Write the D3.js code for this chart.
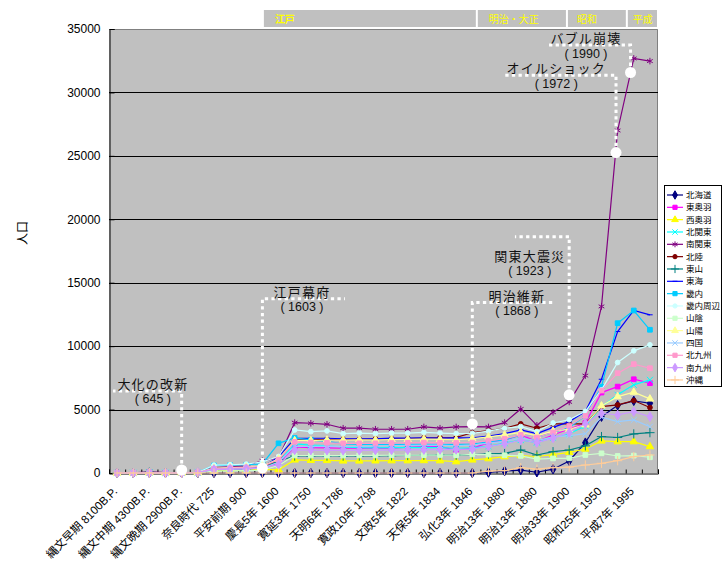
<!DOCTYPE html>
<html><head><meta charset="utf-8">
<script src="https://cdn.jsdelivr.net/npm/d3@7"></script>
<style>body{margin:0;background:#fff}text{font-family:"Liberation Sans","Noto Sans CJK JP",sans-serif}</style>
</head><body>
<svg id="c" width="723" height="566"></svg>
<script>
// ---- data ----
const categories = ["縄文早期 8100B.P.","","縄文中期 4300B.P.","","縄文晩期 2900B.P.","","奈良時代 725","","平安前期 900","","慶長5年 1600","","寛延3年 1750","","天明6年 1786","","寛政10年 1798","","文政5年 1822","","天保5年 1834","","弘化3年 1846","","明治13年 1880","","明治13年 1880","","明治33年 1900","","昭和25年 1950","","平成7年 1995",""];
const yTicks = [0,5000,10000,15000,20000,25000,30000,35000];
const seriesNames = ["北海道","東奥羽","西奥羽","北関東","南関東","北陸","東山","東海","畿内","畿内周辺","山陰","山陽","四国","北九州","南九州","沖縄"];
const seriesColors = ["#000080","#FF00FF","#FFFF00","#00FFFF","#800080","#800000","#008080","#0000FF","#00CCFF","#CCFFFF","#CCFFCC","#FFFF99","#99CCFF","#FF99CC","#CC99FF","#FFCC99"];
const seriesMarkers = ["diamond","square","triangle","x","star","circle","plus","dash","square","circle","square","triangle","x","square","diamond","plus"];

const hokkaido   = [0,0,0,0,0,0,0,0,0,0, 0,0,0,0,0,0,0,0,0,0,0,0,0, 40,150,230,60,300,950,2390,4440,5340,5690,5500];
const higashiOu  = [0,8,30,15,5,30,250,280,310,400, 800,2050,2000,1980,1950,1950,1960,1960,2030,2080,2080,1815,1946,2390,2600,3000,2470,3000,3470,3930,6340,6810,7390,7080];
const nishiOu    = [0,5,15,8,3,20,180,200,230,280, 250,1030,1000,990,950,950,960,970,970,980,970,890,1030,1130,1290,1380,1300,1450,1630,1890,2525,2470,2470,2080];
const kitaKanto  = [0,10,40,20,5,40,400,430,470,560, 900,2300,2200,2150,2050,2000,1980,2000,2000,2020,2000,1950,1980,2100,2350,2600,2400,2800,3100,3700,5230,6160,6950,7340];
const minamiKanto= [5,20,95,40,10,60,420,480,560,960, 1180,3970,3920,3840,3530,3530,3450,3450,3450,3630,3530,3630,3650,3630,3970,5050,3760,4790,5600,7680,13130,27000,32680,32470];
const hokuriku   = [0,5,10,5,2,20,300,350,420,500, 1000,2600,2620,2650,2660,2660,2680,2700,2720,2760,2780,2800,3180,3340,3530,3870,3530,3870,3870,3870,5230,5370,5710,5160];
const tosan      = [0,15,60,20,5,20,250,280,320,400, 950,1340,1340,1340,1340,1340,1350,1360,1380,1400,1420,1400,1450,1500,1550,1815,1420,1680,1815,2140,2870,2800,3080,3180];
const tokai      = [0,5,20,10,5,30,350,400,450,500, 1250,2740,2740,2740,2700,2700,2700,2750,2750,2780,2760,2770,2780,2900,3100,3400,3100,3600,4050,4840,7390,11150,12810,12470];
const kinai      = [0,3,10,5,2,50,600,620,650,720, 2340,2760,2600,2500,2300,2250,2250,2260,2260,2280,2260,2250,2300,2450,2600,3000,2800,3200,3600,4500,6800,11810,12810,11290];
const kinaiShuhen= [2,10,30,15,5,40,620,650,700,880, 1300,3390,3260,3315,3100,3150,3100,3150,3150,3200,3150,3100,3130,3300,3530,3660,3270,3940,4200,4860,6550,8710,9630,10100];
const sanin      = [0,1,3,2,1,20,150,170,190,220, 600,1380,1380,1370,1380,1390,1390,1400,1400,1410,1420,1400,1470,1450,1400,1350,1100,1150,1160,1420,1550,1340,1370,1240];
const sanyo      = [0,5,15,8,3,40,380,420,470,560, 1100,2550,2550,2600,2600,2620,2600,2640,2650,2680,2650,2620,2700,2850,3000,3200,2950,3300,3450,3800,5290,6020,6370,5840];
const shikoku    = [0,2,5,3,1,30,280,300,330,380, 850,2100,2100,2120,2100,2100,2120,2150,2180,2200,2200,2150,2200,2350,2500,2750,2550,2850,2950,3100,4400,4050,4180,3650];
const kitaKyushu = [1,5,10,6,3,60,330,380,430,520, 1050,2450,2400,2380,2340,2340,2340,2360,2380,2400,2380,2370,2400,2550,2700,3000,2800,3200,3700,4500,6500,7870,8580,8260];
const minamiKyushu=[0,4,10,5,3,40,280,310,340,420, 650,1815,1800,1790,1780,1790,1800,1810,1820,1840,1850,1860,1880,2100,2300,2600,2400,2750,3200,3900,4710,4580,4840,4440];
const okinawa    = [0,0,0,0,0,0,0,0,0,0, 0,0,0,0,0,0,0,0,0,0,0,0,0, 150,180,420,300,420,470,630,765,970,1290,1420];
const seriesValues = [hokkaido,higashiOu,nishiOu,kitaKanto,minamiKanto,hokuriku,tosan,tokai,kinai,kinaiShuhen,sanin,sanyo,shikoku,kitaKyushu,minamiKyushu,okinawa];

const eraNames = ["江戸","明治・大正","昭和","平成"];
const eraStart = [9.03,22.28,27.86,31.57];
const eraEnd   = [22.28,27.86,31.57,33.5];

const eventNames = ["大化の改新","江戸幕府","明治維新","関東大震災","オイルショック","バブル崩壊"];
const eventYears = ["( 645 )","( 1603 )","( 1868 )","( 1923 )","( 1972 )","( 1990 )"];
const eventIdx   = [4,9,22,28,30.9,31.8];
const eventValue = [237,395,3870,6160,25260,31570];
const eventLineValue = [6470,13730,13440,18630,31360,33730];
const eventLineEnd   = [-0.25,14.11,26.99,24.64,24.02,26.68];
const eventTextIdx   = [2.22,11.45,24.76,25.56,27.2,29.04];
const eventTextBelow = [false,false,false,true,false,false];

// ---- chart ----
const svg = d3.select("#c");
const X0=109, X1=658, Y0=473, Y1=29;
const x = d3.scaleLinear().domain([-0.5, categories.length-0.5]).range([X0, X1]);
const y = d3.scaleLinear().domain([0, 35000]).range([Y0, Y1]);

svg.append("rect").attr("x",X0).attr("y",Y1).attr("width",X1-X0).attr("height",Y0-Y1).attr("fill","#C0C0C0");
svg.append("path").attr("d",`M${X0},${Y1+0.5}H${X1-0.5}V${Y0}`).attr("fill","none").attr("stroke","#808080");

// grid
svg.append("g").selectAll("line").data(yTicks.filter(t=>t>0 && t<35000)).join("line")
  .attr("x1",X0).attr("x2",X1).attr("y1",d=>Math.round(y(d))+0.5).attr("y2",d=>Math.round(y(d))+0.5)
  .attr("stroke","#000").attr("stroke-width",1);

// era band
const eraTextOffset = [12,12,10,6];
const era = svg.append("g");
era.selectAll("rect").data(eraNames).join("rect")
  .attr("x",(d,i)=>x(eraStart[i])+1).attr("y",10)
  .attr("width",(d,i)=>x(eraEnd[i])-x(eraStart[i])-2).attr("height",17)
  .attr("fill","#C0C0C0");
era.selectAll("text").data(eraNames).join("text")
  .attr("x",(d,i)=>x(eraStart[i])+eraTextOffset[i]).attr("y",19)
  .attr("dominant-baseline","central")
  .attr("font-size",10).attr("font-weight",(d,i)=>i===0?"bold":"normal")
  .attr("fill","#FFFF00").text(d=>d);

// y axis
const yAxis = svg.append("g").attr("transform",`translate(${X0+0.5},0)`)
  .call(d3.axisLeft(y).tickValues(yTicks).tickSize(-5).tickPadding(9).tickFormat(d3.format("d")));
yAxis.select(".domain").attr("stroke","#000");
yAxis.selectAll(".tick line").attr("stroke","#000");
yAxis.selectAll("text").attr("font-size",12).attr("fill","#000").attr("font-family","Liberation Sans, Arial, sans-serif");

// x axis
const xAxis = svg.append("g").attr("transform",`translate(0,${Y0+0.5})`)
  .call(d3.axisBottom(x).tickValues(d3.range(-0.5, categories.length, 1)).tickSize(-4).tickFormat(""));
xAxis.select(".domain").attr("stroke","#000");
xAxis.selectAll(".tick line").attr("stroke","#000");

svg.append("g").selectAll("text").data(categories.map((c,i)=>({c,i})).filter(d=>d.c!==""))
  .join("text")
  .attr("transform",d=>`translate(${x(d.i)+1},${Y0+19}) rotate(-45)`)
  .attr("text-anchor","end").attr("font-size",11.5).attr("fill","#000")
  .text(d=>d.c);

// y title
svg.append("text").attr("transform","translate(27,233) rotate(-90)")
  .attr("text-anchor","middle").attr("font-size",12).attr("fill","#000").text("人口");

// markers
const dash = {draw(ctx,size){const r=Math.sqrt(size)/2; ctx.moveTo(-r,0); ctx.lineTo(r,0);}};
const symTypes = {diamond:d3.symbolDiamond, square:d3.symbolSquare, triangle:d3.symbolTriangle,
  x:d3.symbolTimes||d3.symbolCross, star:d3.symbolAsterisk||d3.symbolCross, circle:d3.symbolCircle,
  plus:d3.symbolPlus||d3.symbolCross, dash:dash};
const symSize = {diamond:26, square:22, triangle:24, x:26, star:30, circle:18, plus:30, dash:30};
const filled = {diamond:true, square:true, triangle:true, circle:true};
function marker(sel, m, color, scale){
  sel.attr("d", d3.symbol().type(symTypes[m]).size(symSize[m]*(scale||1))())
    .attr("fill", filled[m]?color:"none")
    .attr("stroke", color).attr("stroke-width",1);
}

const line = d3.line().x((d,i)=>x(i)).y(d=>y(d));
const plot = svg.append("g");
seriesValues.forEach((vals,k)=>{
  const g = plot.append("g");
  g.append("path").datum(vals).attr("d",line).attr("fill","none")
    .attr("stroke",seriesColors[k]).attr("stroke-width",1.2);
  g.selectAll("path.m").data(vals).join("path").attr("class","m")
    .attr("transform",(d,i)=>`translate(${x(i)},${y(d)})`)
    .call(s=>marker(s, seriesMarkers[k], seriesColors[k]));
});

// annotations
const ann = svg.append("g");
eventNames.forEach((name,i)=>{
  const cx = x(eventIdx[i]), cy = y(eventValue[i]), ly = y(eventLineValue[i]), lx = x(eventLineEnd[i]);
  ann.append("path").attr("d",`M${cx},${cy}V${ly}H${lx}`)
    .attr("fill","none").attr("stroke","#fff").attr("stroke-width",3).attr("stroke-dasharray","3.3,3.3");
  ann.append("circle").attr("cx",cx).attr("cy",cy).attr("r",5.5).attr("fill","#fff");
  const tx = x(eventTextIdx[i]);
  const nb = eventTextBelow[i] ? ly+24 : ly-2;
  ann.append("text").attr("x",tx).attr("y",nb).attr("text-anchor","middle")
    .attr("font-size",13).attr("letter-spacing",1.2).attr("fill","#111")
    .attr("font-family","Noto Sans CJK JP, sans-serif").text(name);
  ann.append("text").attr("x",tx).attr("y",nb+14.5).attr("text-anchor","middle")
    .attr("font-size",12.5).attr("fill","#111").text(eventYears[i]);
});

// legend
const lg = svg.append("g");
lg.append("rect").attr("x",664.5).attr("y",185.5).attr("width",57).attr("height",201)
  .attr("fill","#fff").attr("stroke","#000");
seriesNames.forEach((n,k)=>{
  const yy = 195 + k*12.33;
  lg.append("line").attr("x1",667).attr("x2",683).attr("y1",yy).attr("y2",yy)
    .attr("stroke",seriesColors[k]).attr("stroke-width",1.2);
  lg.append("path").attr("transform",`translate(675,${yy})`).call(s=>marker(s, seriesMarkers[k], seriesColors[k], 0.8));
  lg.append("text").attr("x",686).attr("y",yy).attr("dominant-baseline","central")
    .attr("font-size",8.5).attr("fill","#000").attr("font-family","Noto Sans CJK JP, sans-serif").text(n);
});
</script>
</body></html>
